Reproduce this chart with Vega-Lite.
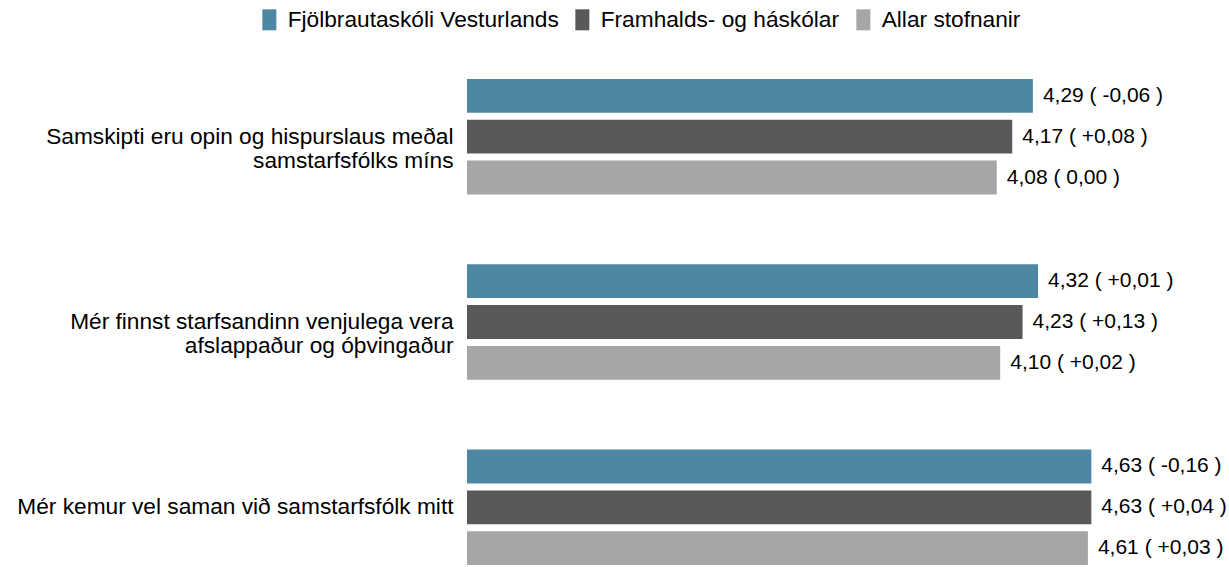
{
  "$schema": "https://vega.github.io/schema/vega-lite/v6.json",
  "autosize": {"type": "none"},
  "padding": {"left": 467, "top": 44, "right": 74, "bottom": 0},
  "width": 688,
  "height": 556,
  "config": {"view": {"stroke": null}, "font": "Liberation Sans"},
  "data": {"values": [
    {"q": "Samskipti eru opin og hispurslaus meðal |samstarfsfólks míns", "g": "Fjölbrautaskóli Vesturlands", "v": 4.29, "label": "4,29 ( -0,06 )"},
    {"q": "Samskipti eru opin og hispurslaus meðal |samstarfsfólks míns", "g": "Framhalds- og háskólar", "v": 4.17, "label": "4,17 ( +0,08 )"},
    {"q": "Samskipti eru opin og hispurslaus meðal |samstarfsfólks míns", "g": "Allar stofnanir", "v": 4.08, "label": "4,08 ( 0,00 )"},
    {"q": "Mér finnst starfsandinn venjulega vera |afslappaður og óþvingaður", "g": "Fjölbrautaskóli Vesturlands", "v": 4.32, "label": "4,32 ( +0,01 )"},
    {"q": "Mér finnst starfsandinn venjulega vera |afslappaður og óþvingaður", "g": "Framhalds- og háskólar", "v": 4.23, "label": "4,23 ( +0,13 )"},
    {"q": "Mér finnst starfsandinn venjulega vera |afslappaður og óþvingaður", "g": "Allar stofnanir", "v": 4.10, "label": "4,10 ( +0,02 )"},
    {"q": "Mér kemur vel saman við samstarfsfólk mitt", "g": "Fjölbrautaskóli Vesturlands", "v": 4.63, "label": "4,63 ( -0,16 )"},
    {"q": "Mér kemur vel saman við samstarfsfólk mitt", "g": "Framhalds- og háskólar", "v": 4.63, "label": "4,63 ( +0,04 )"},
    {"q": "Mér kemur vel saman við samstarfsfólk mitt", "g": "Allar stofnanir", "v": 4.61, "label": "4,61 ( +0,03 )"}
  ]},
  "encoding": {
    "y": {"field": "q", "type": "nominal", "sort": null,
      "scale": {"paddingInner": 0, "paddingOuter": 0},
      "axis": {"title": null, "domain": false, "ticks": false, "labelPadding": 14, "labelFontSize": 22.7, "labelColor": "#000000", "labelExpr": "split(datum.label, '|')", "labelLineHeight": 24, "labelLimit": 600}},
    "yOffset": {"field": "g", "type": "nominal", "sort": null, "scale": {"paddingInner": 0.171, "paddingOuter": 0.854}},
    "x": {"field": "v", "type": "quantitative", "scale": {"domain": [1, 5], "zero": false}, "axis": null}
  },
  "layer": [
    {"mark": {"type": "bar"},
     "encoding": {
       "x2": {"datum": 1},
       "color": {"field": "g", "type": "nominal", "sort": null,
         "scale": {"domain": ["Fjölbrautaskóli Vesturlands", "Framhalds- og háskólar", "Allar stofnanir"], "range": ["#4e87a4", "#595959", "#a6a6a6"]},
         "legend": {"orient": "none", "legendX": -209, "legendY": -36, "direction": "horizontal", "title": null, "symbolType": "M-0.667,-1H0.667V1H-0.667Z", "symbolSize": 441, "symbolStrokeWidth": 0, "labelFontSize": 22.7, "labelLimit": 600, "labelColor": "#000000", "columnPadding": 12, "labelOffset": 7}}
     }},
    {"mark": {"type": "text", "align": "left", "baseline": "middle", "dx": 10, "fontSize": 21, "color": "#000000"},
     "encoding": {"text": {"field": "label"}}}
  ]
}
